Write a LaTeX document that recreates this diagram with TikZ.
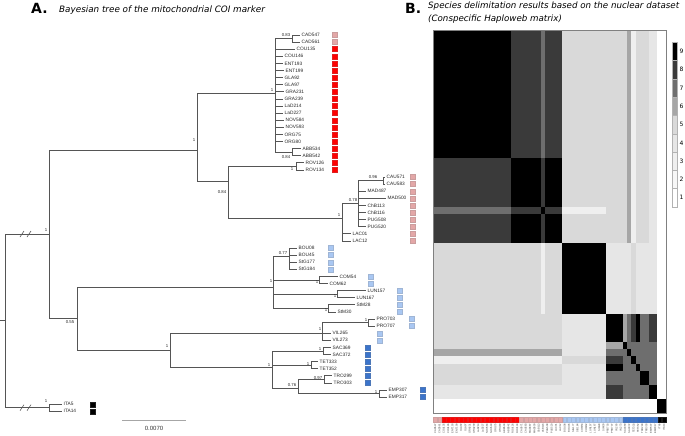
\documentclass[tikz,border=0pt]{standalone}
\usepackage{fontspec}
\setmainfont{DejaVu Sans}
\newfontfamily\labf{Liberation Sans}
\definecolor{brc}{HTML}{555555}
\definecolor{rd}{HTML}{FF0000}
\definecolor{pk}{HTML}{E3A7A7}
\definecolor{lb}{HTML}{A9C7F2}
\definecolor{db}{HTML}{3B74CB}
\definecolor{bk}{HTML}{000000}
\definecolor{hm1}{HTML}{FFFFFF}
\definecolor{hm2}{HTML}{F7F7F7}
\definecolor{hm3}{HTML}{EFEFEF}
\definecolor{hm4}{HTML}{E6E6E6}
\definecolor{hm5}{HTML}{D9D9D9}
\definecolor{hm6}{HTML}{A6A6A6}
\definecolor{hm7}{HTML}{6E6E6E}
\definecolor{hm8}{HTML}{3A3A3A}
\definecolor{hm9}{HTML}{000000}
\newcommand{\hmc}[5]{\fill[hm#5] ({433+(#1)*4.315},{30+(#3)*7.096}) rectangle ({433+(#2+1)*4.315},{30+(#4+1)*7.096});}
\newcommand{\hms}[5]{\hmc{#1}{#2}{#3}{#4}{#5}\hmc{#3}{#4}{#1}{#2}{#5}}
\begin{document}
\begin{tikzpicture}[x=1pt,y=-1pt,
  br/.style={draw=brc, line width=0.7pt},
  leaf/.style={anchor=west, inner xsep=1.5pt, inner ysep=0.3pt, font=\labf\fontsize{4.8}{5}\selectfont, text=black!85},
  sup/.style={font=\labf\fontsize{4.3}{5}\selectfont, inner sep=0pt, text=black!85},
  sq/.style={minimum width=5pt, minimum height=5pt, inner sep=0pt, fill=#1, draw=#1!75!gray, line width=0.4pt},
  bcell/.style={minimum width=3.7pt, minimum height=4.6pt, inner sep=0pt, fill=#1, draw=#1!80!gray, line width=0.25pt},
  blab/.style={rotate=90, anchor=east, inner sep=0pt, font=\labf\fontsize{2.6}{3}\selectfont, text=black!75},
  cbcell/.style={draw=gray!60, line width=0.3pt, fill=#1},
  cblab/.style={anchor=west, inner sep=0pt, font=\fontsize{6}{7}\selectfont}]
\useasboundingbox (0,0) rectangle (685,436);

% ---------- titles
\node[anchor=base west, inner sep=0pt] (tA) at (31,14) {\fontsize{14}{14}\selectfont\bfseries A.};
\node[anchor=base west, inner sep=0pt] (tAt) at (59,12.5) {\fontsize{8.8}{9}\selectfont\itshape Bayesian tree of the mitochondrial COI marker};
\node[anchor=base west, inner sep=0pt] (tB) at (405,14) {\fontsize{14}{14}\selectfont\bfseries B.};
\node[anchor=base west, inner sep=0pt] (tBt) at (428,8.5) {\fontsize{8.7}{9}\selectfont\itshape Species delimitation results based on the nuclear dataset};
\node[anchor=base west, inner sep=0pt] (tBt2) at (428,21.2) {\fontsize{8.7}{9}\selectfont\itshape (Conspecific Haploweb matrix)};

% ---------- tree internal nodes
\coordinate (stub) at (0,320);
\coordinate (root) at (5,320);
\coordinate (nA) at (49,234);
\coordinate (nB) at (197,150);
\coordinate (nR) at (275,93);
\coordinate (nCAD) at (292,38.5);
\coordinate (nABB) at (292,152);
\coordinate (nC) at (228,181);
\coordinate (nROV) at (296,166.3);
\coordinate (nP1) at (342,218);
\coordinate (nP2) at (358,203);
\coordinate (nCAU) at (383,180.5);
\coordinate (nD) at (77,318);
\coordinate (nL) at (273,287);
\coordinate (nBOU) at (289,256);
\coordinate (nCOM) at (319,280);
\coordinate (nLUN) at (337,294.1);
\coordinate (nStM) at (328,308.3);
\coordinate (nE) at (170,350);
\coordinate (nF) at (322,333);
\coordinate (nPRO) at (368,322.5);
\coordinate (nG) at (272,367);
\coordinate (nSAC) at (323,351);
\coordinate (nTET) at (311,365.1);
\coordinate (nH) at (298,388);
\coordinate (nTRO) at (324,379.3);
\coordinate (nEMP) at (379,393.5);
\coordinate (nITA) at (49,407.7);

\draw[br] (stub) -- (root);
\draw[br] (root) |- (nA);
\draw[br] (root) |- (nITA);
\draw[br] (nA) |- (nB);
\draw[br] (nA) |- (nD);
\draw[br] (nB) |- (nR);
\draw[br] (nB) |- (nC);
\draw[br] (nR) |- (nCAD);
\draw[br] (nR) |- (nABB);
\draw[br] (nC) |- (nROV);
\draw[br] (nC) |- (nP1);
\draw[br] (nP1) |- (nP2);
\draw[br] (nP2) |- (nCAU);
\draw[br] (nD) |- (nL);
\draw[br] (nD) |- (nE);
\draw[br] (nL) |- (nBOU);
\draw[br] (nL) |- (nCOM);
\draw[br] (nL) |- (nLUN);
\draw[br] (nL) |- (nStM);
\draw[br] (nE) |- (nF);
\draw[br] (nE) |- (nG);
\draw[br] (nF) |- (nPRO);
\draw[br] (nG) |- (nSAC);
\draw[br] (nG) |- (nTET);
\draw[br] (nG) |- (nH);
\draw[br] (nH) |- (nTRO);
\draw[br] (nH) |- (nEMP);

% break marks
\foreach \bx in {22,29}{
  \draw[brc, line width=0.6pt] (\bx-2,237) -- (\bx+2,231);
  \draw[brc, line width=0.6pt] (\bx-2,410.7) -- (\bx+2,404.7);
}

% ---------- leaves and squares
\foreach \nm/\li/\pa/\ex/\sx/\cl in {
 CAD547/0/nCAD/300/335/pk, CAD561/1/nCAD/300/335/pk,
 COU135/2/nR/295/335/rd, COU146/3/nR/283/335/rd, ENT193/4/nR/283/335/rd, ENT199/5/nR/284/335/rd,
 GLA92/6/nR/283/335/rd, GLA97/7/nR/283/335/rd, GRA231/8/nR/284/335/rd, GRA239/9/nR/283/335/rd,
 LaD214/10/nR/283/335/rd, LaD227/11/nR/283/335/rd, NOV584/12/nR/284/335/rd, NOV593/13/nR/284/335/rd,
 ORG75/14/nR/283/335/rd, ORG80/15/nR/283/335/rd, ABB534/16/nABB/301/335/rd, ABB542/17/nABB/301/335/rd,
 ROV126/18/nROV/304/335/rd, ROV134/19/nROV/304/335/rd,
 CAU571/20/nCAU/385/413/pk, CAU583/21/nCAU/385/413/pk, MAD487/22/nP2/366/413/pk, MAD500/23/nP2/386/413/pk,
 ChB113/24/nP2/366/413/pk, ChB116/25/nP2/366/413/pk, PUG508/26/nP2/366/413/pk, PUG520/27/nP2/366/413/pk,
 LAC01/28/nP1/351/413/pk, LAC12/29/nP1/351/413/pk,
 BOU08/30/nBOU/297/331/lb, BOU45/31/nBOU/297/331/lb, StG177/32/nBOU/297/331/lb, StG184/33/nBOU/297/331/lb,
 COM54/34/nCOM/338/371/lb, COM62/35/nCOM/328/371/lb,
 LUN157/36/nLUN/366/400/lb, LUN167/37/nLUN/355/400/lb, StM28/38/nStM/355/400/lb, StM30/39/nStM/336/400/lb,
 PRO703/40/nPRO/375/412/lb, PRO707/41/nPRO/375/412/lb, VIL265/42/nF/331/380/lb, VIL273/43/nF/331/380/lb,
 SAC369/44/nSAC/331/368/db, SAC372/45/nSAC/331/368/db, TET333/46/nTET/318/368/db, TET352/47/nTET/318/368/db,
 TRO299/48/nTRO/332/368/db, TRO303/49/nTRO/332/368/db, EMP307/50/nEMP/387/423/db, EMP317/51/nEMP/387/423/db,
 ITA5/52/nITA/62/93/bk, ITA14/53/nITA/62/93/bk}{
  \node[leaf] (\nm) at (\ex,{35+7.1*\li}) {\nm};
  \draw[br] (\pa) |- (\nm.west);
  \node[sq=\cl] (s\nm) at (\sx,{35+7.1*\li}) {};
  \node[bcell=\cl] (b\nm) at ({433+(\li+0.5)*4.315},419.5) {};
  \node[blab] (t\nm) at ({433+(\li+0.5)*4.315},423.5) {\nm};
}

% ---------- support values
\node[sup] (s1) at (46,230.5) {1};
\node[sup] (s2) at (194,140) {1};
\node[sup] (s3) at (272,90.5) {1};
\node[sup] (s4) at (286,35.5) {0.83};
\node[sup] (s5) at (286,157) {0.84};
\node[sup] (s6) at (222,192) {0.84};
\node[sup] (s7) at (292,169.5) {1};
\node[sup] (s8) at (339,215.5) {1};
\node[sup] (s9) at (353,200) {0.78};
\node[sup] (s10) at (373,177.5) {0.96};
\node[sup] (s11) at (70,322) {0.55};
\node[sup] (s12) at (271,281.5) {1};
\node[sup] (s13) at (283,253.5) {0.77};
\node[sup] (s14) at (317,282.5) {1};
\node[sup] (s15) at (335,296.5) {1};
\node[sup] (s16) at (326,310.5) {1};
\node[sup] (s17) at (167,346.5) {1};
\node[sup] (s18) at (320,329.5) {1};
\node[sup] (s19) at (366,320.5) {1};
\node[sup] (s20) at (269,365) {1};
\node[sup] (s21) at (320,349.5) {1};
\node[sup] (s22) at (308,364) {1};
\node[sup] (s23) at (292,385) {0.76};
\node[sup] (s24) at (318,378.5) {0.97};
\node[sup] (s25) at (376,392) {1};
\node[sup] (s26) at (46,401) {1};

% ---------- scale bar
\coordinate (sbl) at (122,420);
\coordinate (sbr) at (186,420);
\draw[gray!70, line width=1pt] (sbl) -- (sbr);
\node[font=\labf\fontsize{6}{7}\selectfont, text=black!80] (sbt) at (154,428) {0.0070};

% ---------- heatmap
\hmc{0}{17}{0}{17}{9}
\hms{18}{29}{0}{17}{8}
\hmc{18}{29}{18}{29}{9}
\hms{25}{25}{0}{17}{7}
\hms{25}{25}{18}{29}{8}
\hmc{25}{25}{25}{25}{9}
\hms{30}{51}{0}{29}{5}
\hms{30}{39}{25}{25}{3}
\hms{45}{45}{0}{29}{6}
\hms{46}{46}{0}{29}{3}
\hms{50}{51}{0}{29}{4}
\hmc{30}{39}{30}{39}{9}
\hms{40}{51}{30}{39}{4}
\hms{46}{46}{30}{39}{5}
\hmc{40}{51}{40}{51}{7}
\hmc{40}{43}{40}{43}{9}
\hms{47}{47}{40}{43}{9}
\hmc{47}{47}{47}{47}{9}
\hms{44}{44}{40}{43}{6}
\hms{50}{51}{40}{43}{8}
\hms{46}{46}{40}{43}{8}
\hmc{44}{44}{44}{44}{9}
\hmc{45}{45}{45}{45}{9}
\hmc{46}{46}{46}{46}{9}
\hmc{48}{49}{48}{49}{9}
\hmc{50}{51}{50}{51}{9}
\hms{52}{53}{0}{51}{1}
\hmc{52}{53}{52}{53}{9}
\draw[gray, line width=0.6pt] (433,30) rectangle (666,413);

% ---------- colour bar
\foreach \v in {1,...,9}{
  \path[cbcell=hm\v] (672,{42+(9-\v)*18.33}) rectangle (677,{42+(10-\v)*18.33});
  \node[cblab] (cb\v) at (679.5,{42+(9.5-\v)*18.33}) {\v};
}
\draw[gray!60, line width=0.3pt] (672,42) rectangle (677,207);
\end{tikzpicture}
\end{document}
